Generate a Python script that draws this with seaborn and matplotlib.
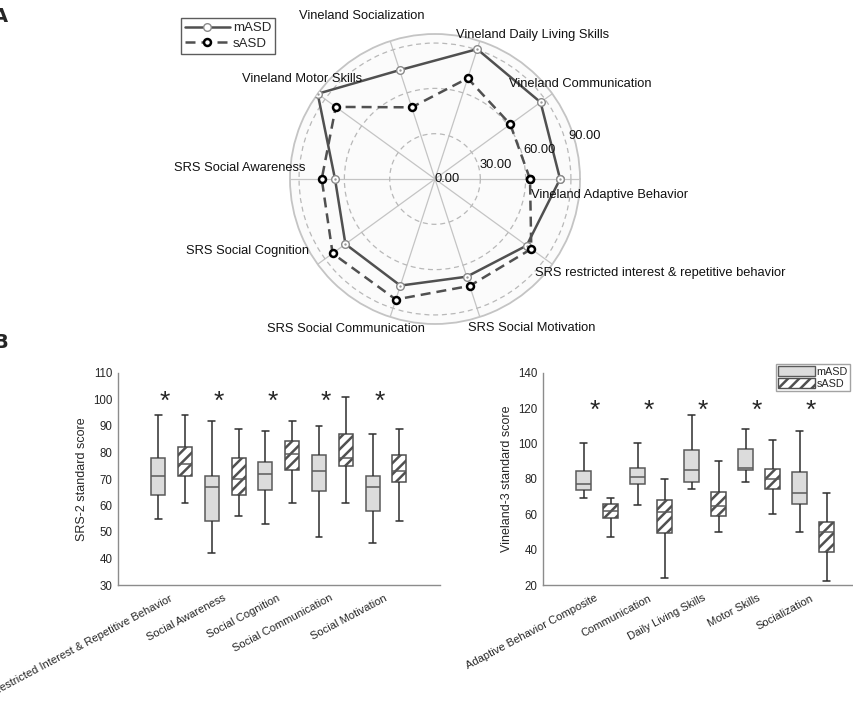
import numpy as np
import pandas as pd
import matplotlib
matplotlib.use("Agg")
import matplotlib.pyplot as plt
import seaborn as sns
from matplotlib.lines import Line2D
from matplotlib.patches import Patch

# ---------------- data ----------------
radar_labels = ['Vineland Adaptive Behavior', 'Vineland Communication',
                'Vineland Daily Living Skills', 'Vineland Socialization',
                'Vineland Motor Skills', 'SRS Social Awareness',
                'SRS Social Cognition', 'SRS Social Communication',
                'SRS Social Motivation',
                'SRS restricted interest & repetitive behavior']
radar_masd = [82.8, 86.4, 90.4, 75.8, 96.0, 66.2, 73.3, 74.2, 68.0, 75.0]
radar_sasd = [62.9, 61.6, 70.1, 49.9, 81.2, 75.0, 83.8, 83.9, 74.4, 78.8]
radar_ticks = [0, 30, 60, 90]
groups = ['mASD', 'sASD']

srs_labels = ['Restricted Interest & Repetitive Behavior', 'Social Awareness',
              'Social Cognition', 'Social Communication', 'Social Motivation']
# five-number summaries: [min, q1, median, q3, max]
srs_masd = [[55, 64, 71, 78, 94], [42, 54, 67, 71, 92], [53, 66, 72, 76.5, 88],
            [48, 65.5, 73, 79, 90], [46, 58, 67, 71, 87]]
srs_sasd = [[61, 71.3, 75.8, 82, 94], [56, 64, 70, 78, 89], [61, 73.5, 79.5, 84.5, 92],
            [61, 75, 78, 87, 101], [54, 69, 73, 79, 89]]

vl_labels = ['Adaptive Behavior Composite', 'Communication', 'Daily Living Skills',
             'Motor Skills', 'Socialization']
vl_masd = [[69, 73.5, 77, 84.5, 100], [65, 77, 81, 86.3, 100], [74, 78, 85, 96.5, 116],
           [78, 85, 86, 97, 108], [50, 66, 72, 84, 107]]
vl_sasd = [[47, 58, 62, 66, 69], [24, 49.5, 61, 68, 80], [50, 59, 64.5, 72.5, 90],
           [60, 74.5, 80, 85.7, 102], [22, 38.5, 50, 55.8, 72]]

srs_ticks = [30, 40, 50, 60, 70, 80, 90, 100, 110]
vl_ticks = [20, 40, 60, 80, 100, 120, 140]

# ---------------- style ----------------
sns.set_theme(style="white")
plt.rcParams['font.family'] = ['Liberation Sans', 'DejaVu Sans']
plt.rcParams['hatch.linewidth'] = 1.8
plt.rcParams['hatch.color'] = '#505050'

W, H = 854, 702
fig = plt.figure(figsize=(W / 100, H / 100), dpi=100)

# ---------------- radar (panel A) ----------------
cx, cy, R = 435, 179, 145
axr = fig.add_axes([(cx - R) / W, (H - cy - R) / H, 2 * R / W, 2 * R / H], projection='polar')
axr.set_facecolor('#fbfbfb')
n = len(radar_labels)
theta = np.deg2rad(np.arange(n) * 360.0 / n)
th_c = np.append(theta, 2 * np.pi)
m_c = np.append(radar_masd, radar_masd[0])
s_c = np.append(radar_sasd, radar_sasd[0])
rmax = 96

sns.lineplot(x=th_c, y=m_c, ax=axr, sort=False, color='#505050', lw=1.8,
             marker='o', ms=5.5, mfc='white', mec='#8a8a8a', mew=1.0, zorder=4)
sns.scatterplot(x=theta, y=radar_masd, ax=axr, color='#9a9a9a', s=3, linewidth=0, zorder=5)
sns.lineplot(x=th_c, y=s_c, ax=axr, sort=False, color='#505050', lw=1.8,
             linestyle=(0, (4, 2.4)), marker='o', ms=5, mfc='white', mec='black',
             mew=1.8, zorder=6)
axr.set_xlabel('')
axr.set_ylabel('')
axr.set_ylim(0, rmax)
axr.set_xticks(theta)
axr.set_xticklabels([])
axr.set_yticks(radar_ticks[1:])
axr.set_yticklabels([])
axr.set_axisbelow(True)
axr.xaxis.grid(True, color='#c4c4c4', lw=0.9, ls='-')
axr.yaxis.grid(True, color='#b8b8b8', lw=0.9, ls=(0, (4, 3)))
axr.spines['polar'].set_color('#c4c4c4')
axr.spines['polar'].set_linewidth(1.3)

for v in radar_ticks:
    axr.text(np.deg2rad(18), v * 1.03, f'{v:.2f}', ha='left', va='center',
             fontsize=9.3, color='#111111', zorder=7)

lab_pos = [(354.8, 116.3), (33.2, 114.7), (55.8, 115.3), (114.1, 118.2),
           (143.0, 110.2), (176.8, 129.3), (201.0, 133.3), (239.3, 115.5),
           (303.1, 117.7), (337.3, 161.4)]
for lab, (a, r) in zip(radar_labels, lab_pos):
    axr.text(np.deg2rad(a), r, lab, ha='center', va='center', fontsize=9.3,
             color='#111111', zorder=8)

leg_handles = [
    Line2D([], [], color='#505050', lw=1.8, marker='o', ms=5.5, mfc='white',
           mec='#8a8a8a', mew=1.0),
    Line2D([], [], color='#505050', lw=1.8, ls=(0, (4, 2.4)), marker='o', ms=5,
           mfc='white', mec='black', mew=1.8),
]
fig.legend(leg_handles, groups, loc='upper left', bbox_to_anchor=(181 / W, 1 - 18 / H),
           frameon=True, fancybox=False, edgecolor='#333333', fontsize=9.5,
           handlelength=3.4, borderpad=0.3, labelspacing=0.25, handletextpad=0.25,
           borderaxespad=0)

fig.text(-7 / W, 1 - 16 / H, 'A', fontsize=14, fontweight='bold', ha='left', va='center',
         family='DejaVu Sans')
fig.text(-7 / W, 1 - 342 / H, 'B', fontsize=14, fontweight='bold', ha='left', va='center',
         family='DejaVu Sans')


# ---------------- box plots (panel B) ----------------
def long_df(labels, masd, sasd):
    rows = []
    for lab, m, s in zip(labels, masd, sasd):
        for v in m:
            rows.append((lab, 'mASD', v))
        for v in s:
            rows.append((lab, 'sASD', v))
    return pd.DataFrame(rows, columns=['cat', 'group', 'score'])


def draw_box(ax, labels, masd, sasd, ylim, yticks, ylabel, star_y, star_dx):
    df = long_df(labels, masd, sasd)
    sns.boxplot(data=df, x='cat', y='score', hue='group', order=labels, hue_order=groups,
                palette={'mASD': '#dcdcdc', 'sASD': 'white'}, saturation=1,
                width=1.0, gap=0.48, whis=(0, 100), linecolor='#5a5a5a', linewidth=1.1,
                legend=False, showfliers=False, ax=ax)
    for p in ax.patches:
        fc = p.get_facecolor()
        if fc[0] > 0.95 and fc[1] > 0.95 and fc[2] > 0.95:
            p.set_hatch('///')
            p.set_edgecolor('#505050')
            try:
                p.set_hatchcolor('#505050')
            except Exception:
                pass
    # whiskers and caps darker
    for ln in ax.lines:
        xd = np.asarray(ln.get_xdata(), dtype=float)
        yd = np.asarray(ln.get_ydata(), dtype=float)
        if len(xd) == 2:
            if abs(xd[0] - xd[1]) < 1e-9:
                ln.set_color('#2e2e2e')
            elif abs(yd[0] - yd[1]) < 1e-9 and abs(xd[1] - xd[0]) < 0.2:
                ln.set_color('#2e2e2e')
    ax.set_xlim(-1, 5)
    ax.set_ylim(*ylim)
    ax.set_yticks(yticks)
    ax.set_xticks(range(len(labels)))
    ax.set_xticklabels(labels, rotation=28, ha='right', va='center',
                       rotation_mode='anchor', fontsize=8)
    ax.set_xlabel('')
    ax.set_ylabel(ylabel, fontsize=9)
    for sp in ['top', 'right']:
        ax.spines[sp].set_visible(False)
    for sp in ['left', 'bottom']:
        ax.spines[sp].set_color('#8c8c8c')
        ax.spines[sp].set_linewidth(1.0)
    ax.tick_params(axis='both', direction='in', length=3, color='#8c8c8c', width=1.0)
    ax.tick_params(axis='y', labelsize=8.3, pad=4)
    ax.tick_params(axis='x', pad=9)
    for i in range(len(labels)):
        ax.text(i + star_dx, star_y, '*', ha='center', va='center', fontsize=19)


ax1 = fig.add_axes([118 / W, (H - 585) / H, 6 * 53.6 / W, 212 / H])
draw_box(ax1, srs_labels, srs_masd, srs_sasd, (30, 110), srs_ticks,
         'SRS-2 standard score', 99.0, -0.12)

ax2 = fig.add_axes([543 / W, (H - 585) / H, 6 * 54 / W, 212.3 / H])
draw_box(ax2, vl_labels, vl_masd, vl_sasd, (20, 140), vl_ticks,
         'Vineland-3 standard score', 118.3, -0.05)
ax2.legend(handles=[Patch(facecolor='#dcdcdc', edgecolor='#5a5a5a', lw=1.0),
                    Patch(facecolor='white', edgecolor='#505050', hatch='///', lw=1.0)],
           labels=groups, loc='upper right', bbox_to_anchor=(0.948, 1.04),
           frameon=True, fancybox=False, edgecolor='#8c8c8c', fontsize=7.8,
           handlelength=3.4, handleheight=0.95, borderpad=0.2, labelspacing=0.15,
           handletextpad=0.15, borderaxespad=0)

fig.savefig('out.png', dpi=100)
